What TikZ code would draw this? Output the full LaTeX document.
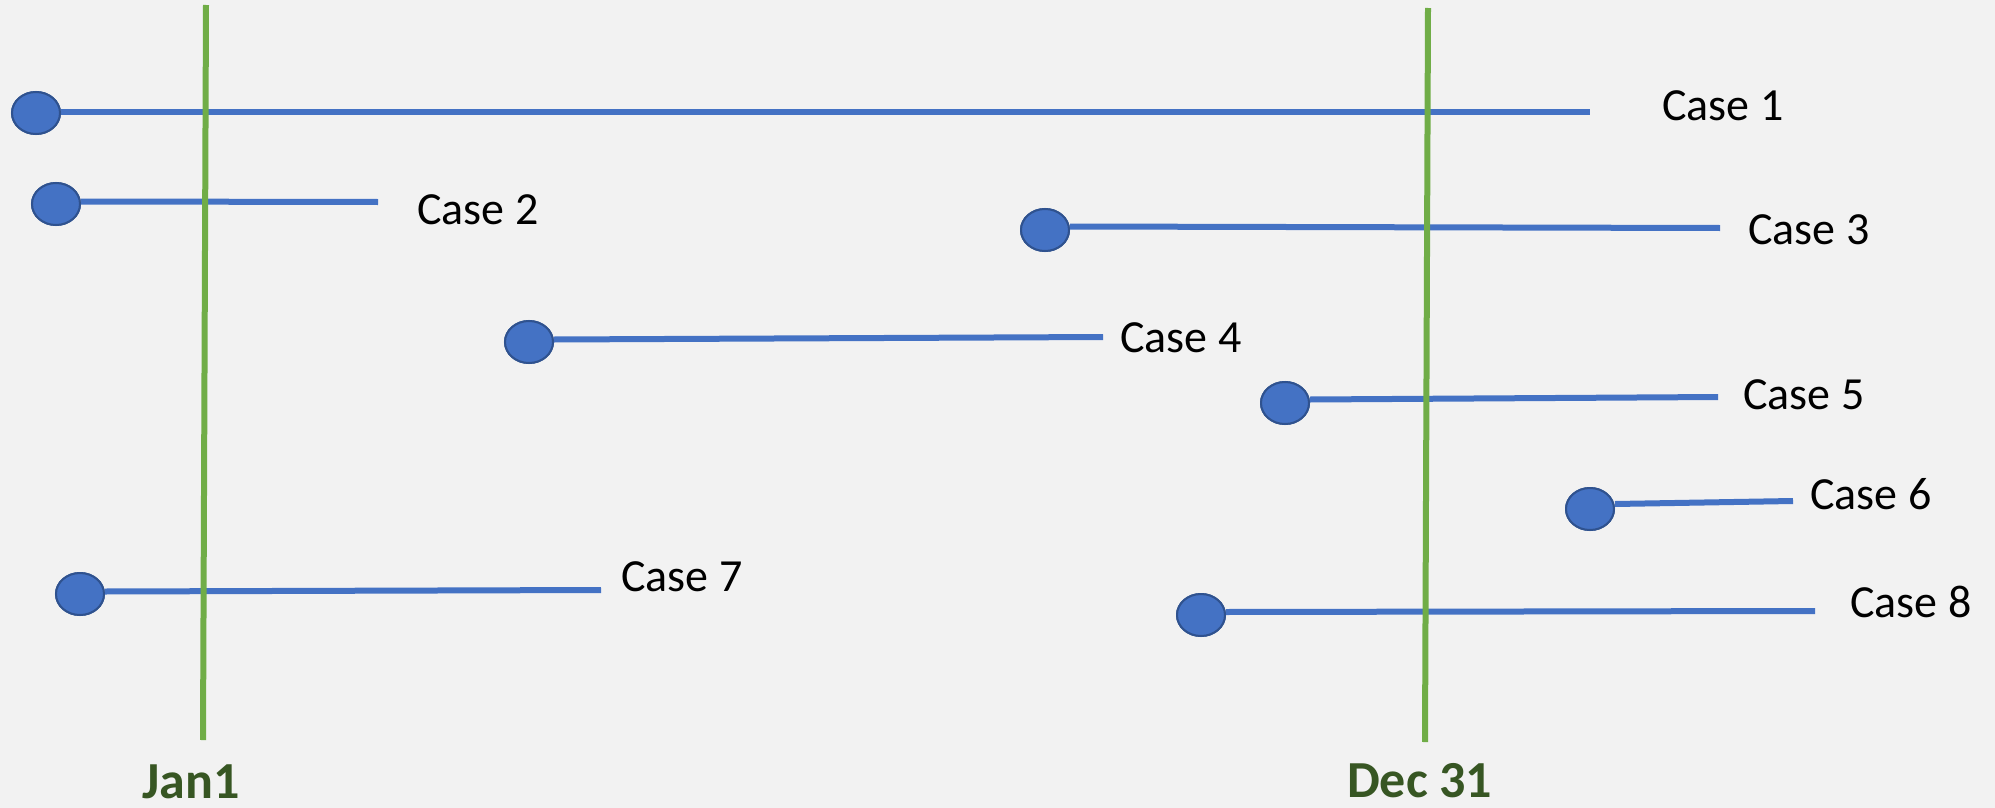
\documentclass[tikz,border=0pt]{standalone}
\usepackage{fontspec}
\setmainfont{Carlito}
\usetikzlibrary{shapes.geometric}
\definecolor{bg}{HTML}{F2F2F2}
\definecolor{bluel}{HTML}{4472C4}
\definecolor{blueb}{HTML}{2F528F}
\definecolor{greenl}{HTML}{70AD47}
\definecolor{greent}{HTML}{375623}
\tikzset{
  dot/.style={ellipse, fill=bluel, draw=blueb, line width=2pt, minimum width=48pt, minimum height=42pt, inner sep=0pt},
  span/.style={draw=bluel, line width=6pt},
  yearline/.style={draw=greenl, line width=6pt},
  caselabel/.style={anchor=base west, inner sep=0pt, font=\fontsize{46}{50}\selectfont, text=black},
  datelabel/.style={anchor=base west, inner sep=0pt, font=\fontsize{52}{56}\selectfont\bfseries, text=greent}
}
\begin{document}
\begin{tikzpicture}[x=1pt,y=-1pt]
\useasboundingbox (0,0) rectangle (1995,808);
\fill[bg] (0,0) rectangle (1995,808);
% year boundary lines
\coordinate (j1t) at (206,5);
\coordinate (j1b) at (203,740);
\coordinate (d1t) at (1428,8);
\coordinate (d1b) at (1425,742);
% cases
\node[dot] (c1) at (36,113) {};
\coordinate (e1) at (1590,112);
\node[dot] (c2) at (56,204) {};
\coordinate (e2) at (378,202);
\node[dot] (c3) at (1045,230) {};
\coordinate (e3) at (1720,228);
\node[dot] (c4) at (529,342) {};
\coordinate (e4) at (1103,337);
\node[dot] (c5) at (1285,403) {};
\coordinate (e5) at (1718,397);
\node[dot] (c6) at (1590,509) {};
\coordinate (e6) at (1793,501);
\node[dot] (c7) at (80,594) {};
\coordinate (e7) at (601,590);
\node[dot] (c8) at (1201,615) {};
\coordinate (e8) at (1815,611);
\draw[span] ([yshift=1pt]c1.east) -- (e1);
\draw[span] ([yshift=2.5pt]c2.east) -- (e2);
\draw[span] ([yshift=3.5pt]c3.east) -- (e3);
\draw[span] ([yshift=2.5pt]c4.east) -- (e4);
\draw[span] ([yshift=3.5pt]c5.east) -- (e5);
\draw[span] ([yshift=5pt]c6.east) -- (e6);
\draw[span] ([yshift=2.5pt]c7.east) -- (e7);
\draw[span] ([yshift=3pt]c8.east) -- (e8);
\draw[yearline] (j1t) -- (j1b);
\draw[yearline] (d1t) -- (d1b);
% redraw dots on top of lines
\node[dot] at (c1) {};
\node[dot] at (c2) {};
\node[dot] at (c3) {};
\node[dot] at (c4) {};
\node[dot] at (c5) {};
\node[dot] at (c6) {};
\node[dot] at (c7) {};
\node[dot] at (c8) {};
% labels
\node[caselabel] (l1) at (1662,120) {Case 1};
\node[caselabel] (l2) at (417,224) {Case 2};
\node[caselabel] (l3) at (1748,244) {Case 3};
\node[caselabel] (l4) at (1120,352) {Case 4};
\node[caselabel] (l5) at (1743,409) {Case 5};
\node[caselabel] (l6) at (1810,509) {Case 6};
\node[caselabel] (l7) at (621,591) {Case 7};
\node[caselabel] (l8) at (1850,617) {Case 8};
\node[datelabel] (jan) at (142,798) {Jan1};
\node[datelabel] (dec) at (1347,797) {Dec 31};
\end{tikzpicture}
\end{document}
